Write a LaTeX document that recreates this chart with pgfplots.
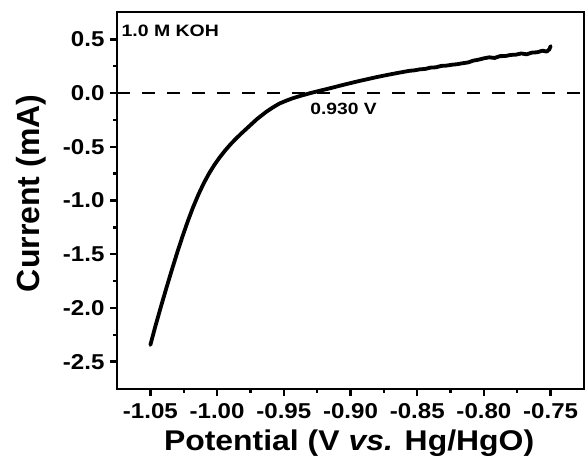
\documentclass[border=0pt]{standalone}
\usepackage{fontspec}
\setmainfont{Liberation Sans}[FakeStretch=1.12]
\newfontfamily\ylabfont{Liberation Sans}
\newfontfamily\annfont{Liberation Sans}[FakeStretch=1.18]
\usepackage{pgfplots}
\pgfplotsset{compat=1.18}
\usepackage{pgfplotstable}
\pgfplotstableread{
x y
-1.050 -2.345
-1.046 -2.160
-1.042 -1.985
-1.038 -1.815
-1.034 -1.650
-1.030 -1.490
-1.026 -1.338
-1.022 -1.195
-1.018 -1.063
-1.014 -0.945
-1.010 -0.840
-1.006 -0.748
-1.002 -0.668
-0.998 -0.598
-0.994 -0.535
-0.990 -0.478
-0.986 -0.426
-0.982 -0.378
-0.975 -0.298
-0.970 -0.241
-0.9632 -0.175
-0.958 -0.132
-0.9532 -0.097
-0.948 -0.070
-0.9433 -0.048
-0.937 -0.024
-0.930 0.000
-0.925 0.016
-0.915 0.046
-0.905 0.078
-0.8933 0.113
-0.880 0.150
-0.872 0.170
-0.864 0.189
-0.860 0.198
-0.856 0.207
-0.852 0.212
-0.848 0.221
-0.844 0.225
-0.840 0.237
-0.836 0.240
-0.832 0.253
-0.828 0.256
-0.824 0.264
-0.820 0.269
-0.816 0.278
-0.812 0.285
-0.808 0.302
-0.804 0.311
-0.800 0.324
-0.796 0.333
-0.792 0.327
-0.788 0.344
-0.784 0.345
-0.780 0.355
-0.776 0.358
-0.772 0.369
-0.768 0.361
-0.764 0.377
-0.760 0.380
-0.756 0.395
-0.753 0.386
-0.751 0.407
-0.750 0.438
}\curvedata
\begin{document}
\begin{tikzpicture}
\useasboundingbox (-117pt,-74pt) rectangle (468pt,389pt);
\begin{axis}[
  scale only axis,
  width=467pt, height=377pt,
  xmin=-1.075, xmax=-0.725,
  ymin=-2.755, ymax=0.755,
  xtick={-1.05,-1,-0.95,-0.9,-0.85,-0.8,-0.75},
  ytick={-2.5,-2,-1.5,-1,-0.5,0,0.5},
  minor x tick num=1, minor y tick num=1,
  tick align=outside,
  xtick pos=lower, ytick pos=left,
  major tick length=7pt, minor tick length=3.5pt,
  tick style={line width=2.4pt, black},
  axis line style={line width=2.8pt},
  /pgf/number format/assume math mode=true,
  xticklabel style={font=\fontsize{21.5}{25}\selectfont\bfseries, yshift=-4pt,
    /pgf/number format/fixed, /pgf/number format/fixed zerofill,
    /pgf/number format/precision=2},
  yticklabel style={font=\fontsize{21.5}{25}\selectfont\bfseries, xshift=-2pt,
    /pgf/number format/fixed, /pgf/number format/fixed zerofill,
    /pgf/number format/precision=1},
  xlabel={Potential (V \textit{vs.} Hg/HgO)},
  ylabel={Current (mA)},
  xlabel style={font=\fontsize{28.5}{32}\selectfont\bfseries,
    at={(axis description cs:0.497,-0.1637)}, anchor=base},
  ylabel style={font=\ylabfont\fontsize{32}{36}\selectfont\bfseries,
    at={(axis description cs:-0.167,0.519)}, anchor=base},
  clip=false,
]
\addplot[black, line width=2.8pt, dash pattern=on 13pt off 12pt]
  coordinates {(-1.075,0) (-0.725,0)};
\addplot[black, line width=3.8pt, line join=round, line cap=round]
  table {\curvedata};
\node[anchor=base west, inner sep=0pt, font=\annfont\fontsize{16.5}{19}\selectfont\bfseries]
  at (axis cs:-1.0717,0.526) {1.0 M KOH};
\node[anchor=base west, inner sep=0pt, font=\annfont\fontsize{16.3}{19}\selectfont\bfseries]
  at (axis cs:-0.9302,-0.203) {0.930 V};
\end{axis}
\end{tikzpicture}
\end{document}
